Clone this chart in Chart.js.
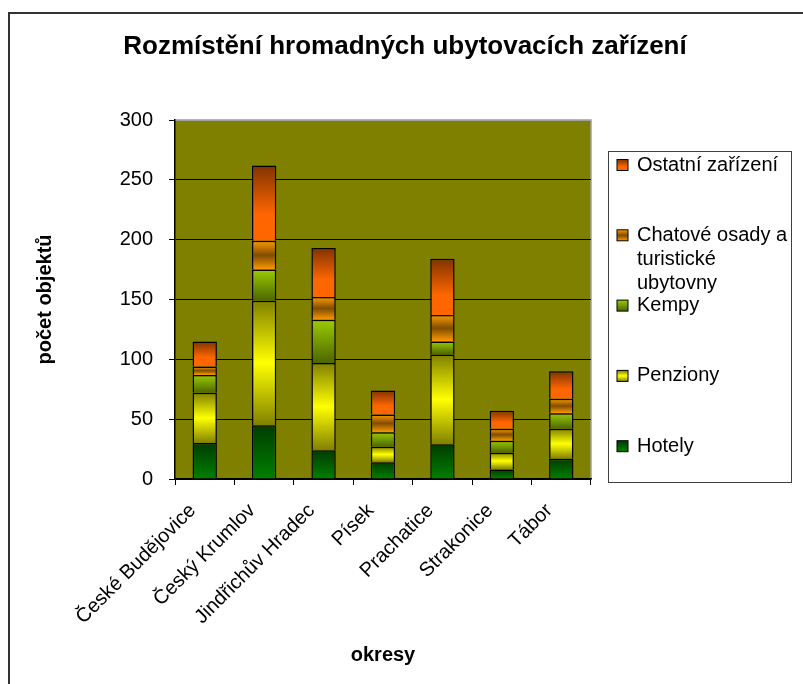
<!DOCTYPE html>
<html>
<head>
<meta charset="utf-8">
<script src="https://cdn.jsdelivr.net/npm/chart.js@4/dist/chart.umd.min.js"></script>
<style>
  html, body { margin: 0; padding: 0; background: #fff; overflow: hidden; }
  #wrap { position: absolute; left: 0; top: 0; width: 803px; height: 684px; }
  #frame { position: absolute; left: 8px; top: 12px; width: 900px; height: 900px;
           border: 2px solid #333; pointer-events: none; }
</style>
</head>
<body>
<div id="frame"></div>
<div id="wrap"><canvas id="myChart"></canvas></div>
<script>
const categories = ['České Budějovice', 'Český Krumlov', 'Jindřichův Hradec', 'Písek', 'Prachatice', 'Strakonice', 'Tábor'];
const hotely = [30, 45, 24, 14, 29, 8, 17];
const penziony = [42, 104, 73, 13, 75, 14, 25];
const kempy = [15, 26, 36, 12, 11, 10, 13];
const chatove = [7, 24, 19, 15, 22, 10, 12];
const ostatni = [21, 63, 41, 20, 47, 15, 23];
const seriesNames = ['Hotely', 'Penziony', 'Kempy', 'Chatové osady a turistické ubytovny', 'Ostatní zařízení'];
const yTicks = [0, 50, 100, 150, 200, 250, 300];
const chartTitle = 'Rozmístění hromadných ubytovacích zařízení';

const series = [hotely, penziony, kempy, chatove, ostatni];

// gradient stops, top -> bottom of each segment
const stops = [
  [[0, '#003c00'], [1, '#008000']],
  [[0, '#808000'], [0.5, '#ffff00'], [1, '#808000']],
  [[0, '#99cc00'], [1, '#4d6600']],
  [[0, '#ff9900'], [0.5, '#804d00'], [1, '#ff9900']],
  [[0, '#803300'], [0.65, '#ff6600'], [1, '#ff6600']]
];

function makeGradient(c2d, yTop, yBottom, s) {
  const g = c2d.createLinearGradient(0, yTop, 0, yBottom);
  s.forEach(([o, c]) => g.addColorStop(o, c));
  return g;
}

function segmentFill(ctx) {
  const d = ctx.datasetIndex;
  const chart = ctx.chart;
  const i = ctx.dataIndex;
  if (!chart.chartArea || i === undefined) return stops[d][0][1];
  let base = 0;
  for (let k = 0; k < d; k++) base += series[k][i];
  const y = chart.scales.y;
  const y0 = y.getPixelForValue(base);
  const y1 = y.getPixelForValue(base + series[d][i]);
  return makeGradient(chart.ctx, y1, y0, stops[d]);
}

const plotBg = {
  id: 'plotBg',
  beforeDraw(chart) {
    const { ctx, chartArea: a } = chart;
    ctx.save();
    ctx.fillStyle = '#808000';
    ctx.fillRect(a.left, a.top, a.right - a.left, a.bottom - a.top);
    ctx.strokeStyle = '#a0a0a0';
    ctx.lineWidth = 1.5;
    ctx.beginPath();
    ctx.moveTo(a.left, a.top);
    ctx.lineTo(a.right, a.top);
    ctx.lineTo(a.right, a.bottom);
    ctx.stroke();
    ctx.restore();
  }
};

// title centred on the whole picture, not only on the plot part
const pageTitle = {
  id: 'pageTitle',
  afterDraw(chart) {
    const ctx = chart.ctx;
    ctx.save();
    ctx.font = 'bold 26px "Liberation Sans", Arial, sans-serif';
    ctx.fillStyle = '#000';
    ctx.textAlign = 'center';
    ctx.textBaseline = 'middle';
    ctx.fillText(chartTitle, 405, 47);
    ctx.restore();
  }
};

// legend drawn like the Excel one: reversed order, equal spacing, wrapped text
const sideLegend = {
  id: 'sideLegend',
  afterDraw(chart) {
    const ctx = chart.ctx;
    const box = { x: 608, y: 151, w: 183, h: 331 };
    ctx.save();
    ctx.strokeStyle = '#404040';
    ctx.lineWidth = 1;
    ctx.strokeRect(box.x + 0.5, box.y + 0.5, box.w, box.h);
    ctx.font = '20px "Liberation Sans", Arial, sans-serif';
    ctx.fillStyle = '#000';
    ctx.textBaseline = 'middle';
    const order = [4, 3, 2, 1, 0];
    order.forEach((d, n) => {
      const top = 153 + n * 70.3;
      const words = seriesNames[d].split(' ');
      const lines = [];
      let cur = '';
      words.forEach(w => {
        const t = cur ? cur + ' ' + w : w;
        if (ctx.measureText(t).width > 156 && cur) { lines.push(cur); cur = w; } else cur = t;
      });
      lines.push(cur);
      const cy = top + 12;
      ctx.fillStyle = makeGradient(ctx, cy - 5.5, cy + 5.5, stops[d]);
      ctx.fillRect(617, cy - 5.5, 11, 11);
      ctx.strokeStyle = '#000';
      ctx.strokeRect(617, cy - 5.5, 11, 11);
      ctx.fillStyle = '#000';
      lines.forEach((l, j) => ctx.fillText(l, 637, cy + j * 24));
    });
    ctx.restore();
  }
};

Chart.defaults.font.family = '"Liberation Sans", Arial, sans-serif';
Chart.defaults.color = '#000';

new Chart(document.getElementById('myChart'), {
  type: 'bar',
  data: {
    labels: categories,
    datasets: series.map((vals, d) => ({
      label: seriesNames[d],
      data: vals,
      backgroundColor: segmentFill,
      borderColor: '#000',
      borderWidth: 1.5,
      borderSkipped: 'bottom',
      barPercentage: 0.41,
      categoryPercentage: 1
    }))
  },
  options: {
    responsive: true,
    maintainAspectRatio: false,
    animation: false,
    layout: { padding: { left: 0, right: 212, top: 120, bottom: 0 } },
    plugins: {
      legend: { display: false },
      tooltip: { enabled: false },
      title: { display: false }
    },
    scales: {
      x: {
        stacked: true,
        afterFit(s) { s.height = 205; },
        grid: { drawOnChartArea: false, color: '#000', tickColor: '#000', tickLength: 6 },
        border: { color: '#000', width: 1.5 },
        ticks: { font: { size: 20 }, maxRotation: 45, minRotation: 45, padding: 14, labelOffset: -12, autoSkip: false },
        title: { display: true, text: 'okresy', font: { size: 20, weight: 'bold' }, padding: { bottom: 17 } }
      },
      y: {
        stacked: true,
        min: yTicks[0],
        max: yTicks[yTicks.length - 1],
        afterFit(s) { s.width = 175; },
        afterBuildTicks(s) { s.ticks = yTicks.map(v => ({ value: v })); },
        grid: {
          color: c => (c.tick && c.tick.value === 300) ? '#a0a0a0' : '#000',
          tickColor: '#000',
          tickLength: 6,
          lineWidth: 1
        },
        border: { color: '#000', width: 1.5 },
        ticks: { font: { size: 20 }, padding: 16 },
        title: { display: true, text: 'počet objektů', font: { size: 20, weight: 'bold' }, padding: { top: 33 } }
      }
    }
  },
  plugins: [plotBg, pageTitle, sideLegend]
});
</script>
</body>
</html>
